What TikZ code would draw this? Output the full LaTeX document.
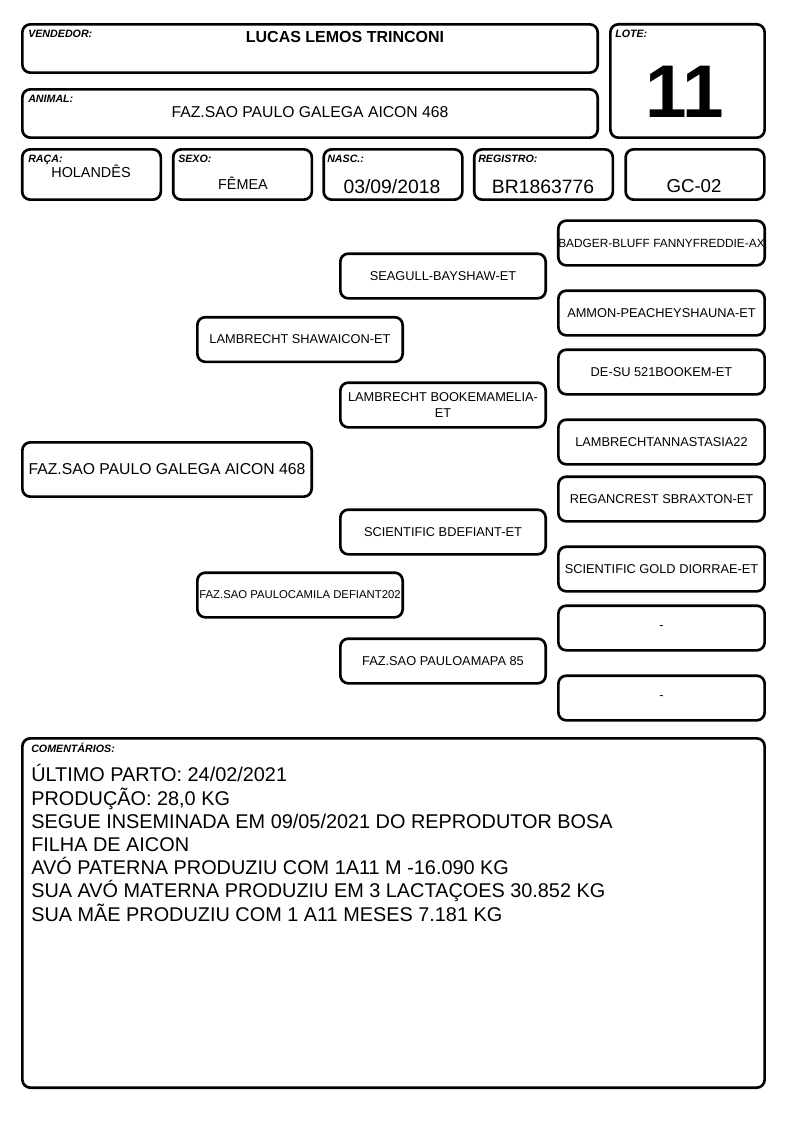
\documentclass[tikz,border=0pt]{standalone}
\usepackage{fontspec}
\setmainfont{Liberation Sans}
\tikzset{caixa/.style={draw,line width=2pt,rounded corners=6pt,inner sep=0pt},
         rotulo/.style={font=\fontsize{8}{9}\selectfont\bfseries\itshape,anchor=base west,inner sep=0pt},
         valor/.style={anchor=base,inner sep=0pt},
         campo/.style={caixa,minimum width=104pt,minimum height=37.7pt},
         ped/.style={caixa,minimum width=154pt,minimum height=33.5pt,
                     font=\fontsize{9.6}{11.5}\selectfont,align=center}}

\begin{document}
\begin{tikzpicture}[x=0.75pt,y=-0.75pt]
\useasboundingbox (0,0) rectangle (794,1123);
% cabecalho
\node[caixa,minimum width=431.5pt,minimum height=36.2pt] (vendedor) at (310,48.5) {};
\node[caixa,minimum width=431.5pt,minimum height=36.2pt] (animal) at (310,113.5) {};
\node[caixa,minimum width=115.7pt,minimum height=85pt] (lote) at (687.5,81) {};
\node[rotulo] (lvendedor) at (28,38) {VENDEDOR:};
\node[rotulo] (lanimal) at (28,103) {ANIMAL:};
\node[rotulo] (llote) at (615,38) {LOTE:};
\node[valor,font=\fontsize{12}{14}\selectfont\bfseries] (nvendedor) at (345,43) {LUCAS LEMOS TRINCONI};
\node[valor,font=\fontsize{11.8}{14}\selectfont] (nanimal) at (310,118) {FAZ.SAO PAULO GALEGA AICON 468};
\node[valor,font=\fontsize{56}{60}\selectfont\bfseries] (nlote) at (685,118) {11};
% dados
\node[campo] (raca) at (91.5,174.5) {};
\node[campo] (sexo) at (242.5,174.5) {};
\node[campo] (nasc) at (393,174.5) {};
\node[campo] (registro) at (543.5,174.5) {};
\node[campo] (gc) at (695,174.5) {};
\node[rotulo] (lraca) at (28,163) {RAÇA:};
\node[rotulo] (lsexo) at (178,163) {SEXO:};
\node[rotulo] (lnasc) at (327,163) {NASC.:};
\node[rotulo] (lregistro) at (478,163) {REGISTRO:};
\node[valor,font=\fontsize{10.8}{13}\selectfont] (nraca) at (91,178) {HOLANDÊS};
\node[valor,font=\fontsize{10.8}{13}\selectfont] (nsexo) at (243,190) {FÊMEA};
\node[valor,font=\fontsize{14.5}{17}\selectfont] (nnasc) at (392,194) {03/09/2018};
\node[valor,font=\fontsize{14.5}{17}\selectfont] (nregistro) at (543,194) {BR1863776};
\node[valor,font=\fontsize{14}{17}\selectfont] (ngc) at (694,193) {GC-02};
% genealogia
\node[ped,minimum width=217pt,minimum height=40.7pt,font=\fontsize{11.8}{14}\selectfont] (a) at (167,469.5) {FAZ.SAO PAULO GALEGA AICON 468};
\node[ped] (p) at (300,339.5) {LAMBRECHT SHAWAICON-ET};
\node[ped,font=\fontsize{8.5}{10}\selectfont] (m) at (300,595) {FAZ.SAO PAULOCAMILA DEFIANT202};
\node[ped] (pp) at (443,276) {SEAGULL-BAYSHAW-ET};
\node[ped] (pm) at (443,405) {LAMBRECHT BOOKEMAMELIA-\\ET};
\node[ped] (mp) at (443,532) {SCIENTIFIC BDEFIANT-ET};
\node[ped] (mm) at (443,661) {FAZ.SAO PAULOAMAPA 85};
\node[ped,minimum width=154.7pt,font=\fontsize{8.9}{10}\selectfont] (ppp) at (661.5,243) {BADGER-BLUFF FANNYFREDDIE-AX};
\node[ped,minimum width=154.7pt] (ppm) at (661.5,313) {AMMON-PEACHEYSHAUNA-ET};
\node[ped,minimum width=154.7pt] (pmp) at (661.5,372) {DE-SU 521BOOKEM-ET};
\node[ped,minimum width=154.7pt] (pmm) at (661.5,442) {LAMBRECHTANNASTASIA22};
\node[ped,minimum width=154.7pt] (mpp) at (661.5,499) {REGANCREST SBRAXTON-ET};
\node[ped,minimum width=154.7pt] (mpm) at (661.5,569) {SCIENTIFIC GOLD DIORRAE-ET};
\node[ped,minimum width=154.7pt] (mmp) at (661.5,628) {-};
\node[ped,minimum width=154.7pt] (mmm) at (661.5,698) {-};
% comentarios
\node[caixa,minimum width=556.7pt,minimum height=262pt] (coment) at (393.5,913) {};
\node[rotulo] (lcoment) at (31,752) {COMENTÁRIOS:};
\node[anchor=base west,inner sep=0pt,align=left,font=\fontsize{14.9}{17.4}\selectfont] (obs) at (31,921)
  {ÚLTIMO PARTO: 24/02/2021\\
   PRODUÇÃO: 28,0 KG\\
   SEGUE INSEMINADA EM 09/05/2021 DO REPRODUTOR BOSA\\
   FILHA DE AICON\\
   AVÓ PATERNA PRODUZIU COM 1A11 M -16.090 KG\\
   SUA AVÓ MATERNA PRODUZIU EM 3 LACTAÇOES 30.852 KG\\
   SUA MÃE PRODUZIU COM 1 A11 MESES 7.181 KG};
\end{tikzpicture}
\end{document}
